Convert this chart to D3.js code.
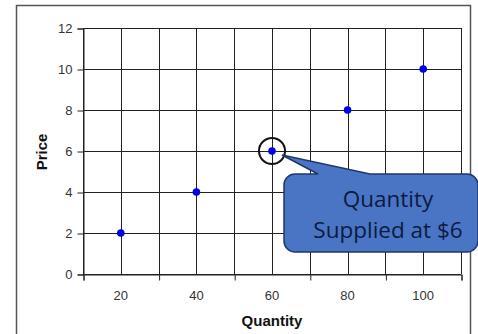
<!DOCTYPE html>
<html><head><meta charset="utf-8">
<script src="https://cdn.jsdelivr.net/npm/d3@7"></script>
<style>html,body{margin:0;padding:0;background:#fff;}svg{display:block;}</style>
</head><body>
<svg id="chart" width="478" height="334"></svg>
<script>
const quantity = [20, 40, 60, 80, 100];
const price = [2, 4, 6, 8, 10];
const xTickLabels = [20, 40, 60, 80, 100];
const xGrid = [10, 20, 30, 40, 50, 60, 70, 80, 90, 100, 110];
const xMajorTicks = [10, 30, 50, 70, 90, 110];
const yTicks = [0, 2, 4, 6, 8, 10, 12];
const highlightIndex = 2;
const calloutLines = ["Quantity", "Supplied at $6"];

const svg = d3.select("#chart");
const L = 83, R = 461, T = 28, B = 274;
const x = d3.scaleLinear().domain([10, 110]).range([L, R]);
const y = d3.scaleLinear().domain([0, 12]).range([B, T]);
const FONT = "'Liberation Sans', Arial, sans-serif";

// outer border
svg.append("rect").attr("x", 16.5).attr("y", 5.5).attr("width", 454).attr("height", 340)
  .attr("fill", "#fff").attr("stroke", "#555").attr("stroke-width", 1.5);

// gridlines
svg.append("g").selectAll("line").data(xGrid).join("line")
  .attr("x1", d => Math.round(x(d)) + 0.5).attr("x2", d => Math.round(x(d)) + 0.5)
  .attr("y1", T).attr("y2", B).attr("stroke", "#222").attr("stroke-width", 1);
svg.append("g").selectAll("line").data(yTicks).join("line")
  .attr("y1", d => Math.round(y(d)) + 0.5).attr("y2", d => Math.round(y(d)) + 0.5)
  .attr("x1", L).attr("x2", R).attr("stroke", "#222").attr("stroke-width", 1);

// y axis
const yAxis = d3.axisLeft(y).tickValues(yTicks).tickSize(6).tickPadding(5);
const gy = svg.append("g").attr("transform", `translate(${L + 0.5},0.5)`).call(yAxis);
gy.attr("font-size", null).attr("font-family", null);
gy.select(".domain").attr("stroke", "#222");
gy.selectAll(".tick line").attr("stroke", "#222");
gy.selectAll("text").style("font-family", FONT).style("font-size", "13px").attr("fill", "#333");

// x axis: tick marks at odd tens, labels at even
const xAxis = d3.axisBottom(x).tickValues(xMajorTicks).tickSize(6).tickFormat("");
const gx = svg.append("g").attr("transform", `translate(0.5,${B + 0.5})`).call(xAxis);
gx.select(".domain").attr("stroke", "#222");
gx.selectAll(".tick line").attr("stroke", "#222");
svg.append("g").selectAll("text").data(xTickLabels).join("text")
  .attr("x", d => x(d)).attr("y", 300).attr("text-anchor", "middle")
  .style("font-family", FONT).style("font-size", "13px").attr("fill", "#333")
  .text(d => d);

// axis titles
svg.append("text").attr("x", 272).attr("y", 326).attr("text-anchor", "middle")
  .style("font-family", FONT).style("font-size", "15px").attr("font-weight", "bold")
  .attr("fill", "#111").text("Quantity");
svg.append("text").attr("transform", "translate(47,152) rotate(-90)").attr("text-anchor", "middle")
  .style("font-family", FONT).style("font-size", "15px").attr("font-weight", "bold")
  .attr("fill", "#111").text("Price");

// points
svg.append("g").selectAll("circle").data(quantity).join("circle")
  .attr("cx", d => x(d)).attr("cy", (d, i) => y(price[i])).attr("r", 3.8).attr("fill", "#0000ee");

// highlight circle
const hx = x(quantity[highlightIndex]), hy = y(price[highlightIndex]);
svg.append("circle").attr("cx", hx).attr("cy", hy).attr("r", 13).attr("fill", "none")
  .attr("stroke", "#111").attr("stroke-width", 2);

// callout
const bx = 284, by = 174, bw = 194, bh = 78, rr = 11;
const tail = [[hx + 10, hy + 4], [318, by], [370, by]];
const path = d3.path();
path.moveTo(bx + rr, by);
path.lineTo(tail[1][0], by);
path.lineTo(tail[0][0], tail[0][1]);
path.lineTo(tail[2][0], by);
path.lineTo(bx + bw - rr, by);
path.arcTo(bx + bw, by, bx + bw, by + rr, rr);
path.lineTo(bx + bw, by + bh - rr);
path.arcTo(bx + bw, by + bh, bx + bw - rr, by + bh, rr);
path.lineTo(bx + rr, by + bh);
path.arcTo(bx, by + bh, bx, by + bh - rr, rr);
path.lineTo(bx, by + rr);
path.arcTo(bx, by, bx + rr, by, rr);
path.closePath();
svg.append("path").attr("d", path.toString()).attr("fill", "#4a75c5")
  .attr("stroke", "#1f3866").attr("stroke-width", 1.5);

svg.append("g").selectAll("text").data(calloutLines).join("text")
  .attr("x", 388).attr("y", (d, i) => 207 + i * 31).attr("text-anchor", "middle")
  .style("font-family", "'Open Sans', Lato, sans-serif").style("font-size", "22.5px")
  .attr("fill", "#0d1b40").text(d => d);
</script>
</body></html>
